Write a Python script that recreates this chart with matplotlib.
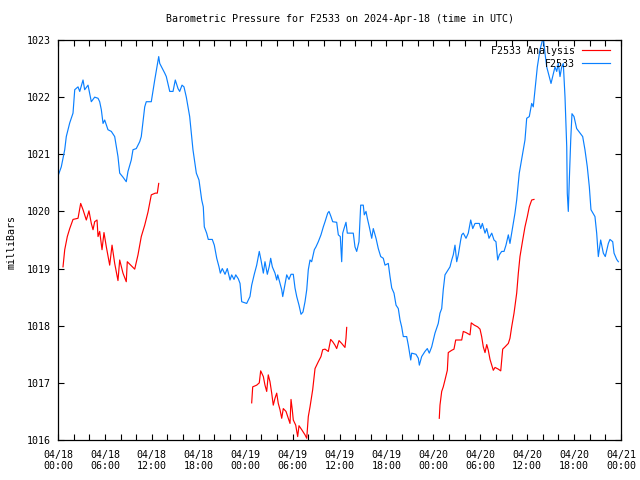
import numpy as np
import pandas as pd
import matplotlib
matplotlib.use("Agg")
import matplotlib.pyplot as plt
import matplotlib.dates as mdates

# hours after 2024-04-18 00:00 UTC, pressure in mb
obs_hours = [0.00, 0.42, 0.64, 0.86, 1.06, 1.50, 1.92, 2.14, 2.56, 2.78, 3.20, 3.41, 3.84, 4.26, 4.69,
             5.12, 5.33, 5.54, 5.76, 5.97, 6.39, 6.82, 7.25, 7.46, 7.67, 7.89, 8.31, 8.73, 8.95, 9.37,
             9.59, 10.01, 10.45, 10.65, 11.09, 11.29, 11.93, 12.37, 12.88, 13.01, 13.43, 13.65, 13.85,
             14.29, 14.71, 15.00, 15.35, 15.56, 15.86, 16.11, 16.41, 16.84, 17.26, 17.69, 18.03, 18.38,
             18.58, 18.71, 19.01, 19.22, 19.73, 19.99, 20.30, 20.59, 20.76, 21.01, 21.36, 21.65, 22.00,
             22.21, 22.51, 22.73, 23.06, 23.28, 23.49, 24.13, 24.55, 24.77, 25.10, 25.41, 25.74, 25.96,
             26.26, 26.47, 26.77, 27.02, 27.20, 27.41, 27.75, 27.97, 28.10, 28.39, 28.61, 28.74, 28.94,
             29.25, 29.54, 29.80, 30.09, 30.31, 30.53, 30.82, 31.08, 31.33, 31.59, 31.81, 32.01, 32.23,
             32.44, 32.78, 32.99, 33.29, 33.63, 33.93, 34.15, 34.49, 34.66, 34.91, 35.13, 35.64, 35.85,
             36.10, 36.28, 36.41, 36.58, 36.83, 37.00, 37.25, 37.76, 37.98, 38.20, 38.49, 38.71, 39.04,
             39.17, 39.39, 39.56, 39.81, 40.12, 40.32, 40.67, 40.96, 41.27, 41.60, 41.82, 42.24, 42.46,
             42.68, 42.97, 43.23, 43.52, 43.74, 43.95, 44.16, 44.59, 44.80, 45.11, 45.23, 45.78, 46.08,
             46.21, 46.51, 46.93, 47.23, 47.48, 47.79, 48.21, 48.63, 48.85, 49.07, 49.27, 49.49, 49.91,
             50.13, 50.35, 50.55, 50.77, 50.99, 51.19, 51.50, 51.63, 51.83, 52.18, 52.47, 52.78, 53.04,
             53.33, 53.88, 54.06, 54.27, 54.61, 54.83, 55.12, 55.47, 55.76, 56.01, 56.23, 56.44, 56.74,
             57.04, 57.29, 57.59, 57.80, 58.02, 58.23, 58.44, 58.66, 58.99, 59.43, 59.72, 59.94, 60.27,
             60.58, 60.78, 61.00, 61.30, 61.64, 62.06, 62.28, 62.50, 62.83, 63.05, 63.26, 63.56, 63.78,
             63.98, 64.20, 64.42, 64.62, 64.84, 65.06, 65.13, 65.26, 65.39, 65.57, 65.73, 65.99, 66.33,
             66.76, 67.10, 67.39, 67.69, 67.95, 68.16, 68.67, 68.89, 69.10, 69.40, 69.74, 69.99, 70.38,
             70.59, 70.94, 71.11, 71.45, 71.66]
obs_mb = [1020.62, 1020.78, 1020.93, 1021.08, 1021.31, 1021.55, 1021.72, 1022.13, 1022.18, 1022.10,
          1022.30, 1022.13, 1022.21, 1021.92, 1022.00, 1021.98, 1021.92, 1021.78, 1021.54, 1021.60,
          1021.43, 1021.40, 1021.31, 1021.13, 1020.96, 1020.67, 1020.60, 1020.52, 1020.70, 1020.90,
          1021.08, 1021.10, 1021.22, 1021.31, 1021.83, 1021.92, 1021.92, 1022.30, 1022.71, 1022.59,
          1022.48, 1022.42, 1022.36, 1022.10, 1022.10, 1022.30, 1022.15, 1022.10, 1022.21, 1022.18,
          1022.00, 1021.66, 1021.08, 1020.67, 1020.55, 1020.20, 1020.08, 1019.73, 1019.62, 1019.51,
          1019.51, 1019.41, 1019.18, 1019.03, 1018.92, 1019.00, 1018.90, 1019.00, 1018.80, 1018.89,
          1018.81, 1018.89, 1018.82, 1018.74, 1018.42, 1018.39, 1018.51, 1018.71, 1018.90, 1019.06,
          1019.30, 1019.15, 1018.92, 1019.12, 1018.90, 1019.04, 1019.18, 1019.03, 1018.92, 1018.80,
          1018.89, 1018.74, 1018.63, 1018.51, 1018.66, 1018.89, 1018.81, 1018.90, 1018.90, 1018.66,
          1018.51, 1018.36, 1018.20, 1018.24, 1018.42, 1018.63, 1018.98, 1019.15, 1019.12, 1019.33,
          1019.38, 1019.47, 1019.59, 1019.73, 1019.82, 1019.97, 1020.00, 1019.91, 1019.82, 1019.81,
          1019.59, 1019.56, 1019.12, 1019.62, 1019.70, 1019.81, 1019.62, 1019.62, 1019.62, 1019.38,
          1019.30, 1019.47, 1020.11, 1020.11, 1019.94, 1020.00, 1019.88, 1019.73, 1019.53, 1019.70,
          1019.53, 1019.35, 1019.21, 1019.18, 1019.06, 1019.09, 1018.86, 1018.66, 1018.57, 1018.36,
          1018.30, 1018.10, 1017.98, 1017.81, 1017.81, 1017.66, 1017.40, 1017.52, 1017.50, 1017.43,
          1017.31, 1017.46, 1017.55, 1017.60, 1017.52, 1017.63, 1017.87, 1018.04, 1018.22, 1018.30,
          1018.63, 1018.89, 1018.98, 1019.03, 1019.15, 1019.24, 1019.41, 1019.12, 1019.24, 1019.50,
          1019.59, 1019.62, 1019.53, 1019.62, 1019.85, 1019.70, 1019.79, 1019.79, 1019.70, 1019.79,
          1019.62, 1019.70, 1019.53, 1019.62, 1019.50, 1019.47, 1019.15, 1019.24, 1019.30, 1019.30,
          1019.41, 1019.59, 1019.44, 1019.62, 1019.79, 1019.97, 1020.20, 1020.67, 1021.02, 1021.25,
          1021.63, 1021.66, 1021.89, 1021.83, 1022.13, 1022.53, 1022.83, 1023.05, 1022.77, 1022.53,
          1022.36, 1022.24, 1022.36, 1022.53, 1022.45, 1022.59, 1022.36, 1022.53, 1022.59, 1022.00,
          1021.13, 1020.32, 1020.00, 1020.55, 1021.25, 1021.71, 1021.66, 1021.45, 1021.37, 1021.31,
          1021.08, 1020.78, 1020.43, 1020.03, 1019.91, 1019.62, 1019.21, 1019.50, 1019.27, 1019.21,
          1019.44, 1019.51, 1019.47, 1019.27, 1019.16, 1019.12]

# analysis runs, three 12 hour pieces
ana1_hours = [0.64, 0.86, 1.19, 1.50, 1.92, 2.56, 2.90, 3.20, 3.62, 3.96, 4.26, 4.48, 4.69, 4.99, 5.12,
              5.33, 5.63, 5.88, 6.18, 6.61, 6.91, 7.25, 7.67, 7.89, 8.31, 8.73, 8.86, 9.81, 10.23, 10.65,
              11.09, 11.51, 11.93, 12.44, 12.70, 12.88]
ana1_mb = [1019.03, 1019.33, 1019.56, 1019.70, 1019.86, 1019.88, 1020.14, 1020.03, 1019.85, 1020.01,
           1019.79, 1019.68, 1019.82, 1019.85, 1019.56, 1019.65, 1019.33, 1019.63, 1019.38, 1019.06,
           1019.41, 1019.09, 1018.79, 1019.15, 1018.92, 1018.77, 1019.12, 1018.99, 1019.24, 1019.56,
           1019.76, 1019.99, 1020.29, 1020.32, 1020.32, 1020.49]
ana2_hours = [24.77, 24.90, 25.41, 25.74, 25.92, 26.26, 26.47, 26.69, 26.89, 27.11, 27.33, 27.53, 27.75,
              27.97, 28.17, 28.39, 28.61, 28.81, 29.16, 29.45, 29.67, 29.80, 29.96, 30.09, 30.40, 30.65,
              30.82, 31.17, 31.59, 31.81, 32.01, 32.23, 32.57, 32.87, 33.29, 33.63, 33.85, 34.15, 34.57,
              34.87, 35.13, 35.42, 35.64, 35.94, 36.28, 36.70, 36.83, 36.92]
ana2_mb = [1016.65, 1016.93, 1016.96, 1017.00, 1017.21, 1017.11, 1016.96, 1016.85, 1017.14, 1017.02,
           1016.82, 1016.61, 1016.73, 1016.82, 1016.64, 1016.53, 1016.38, 1016.55, 1016.50, 1016.38,
           1016.29, 1016.71, 1016.53, 1016.35, 1016.26, 1016.06, 1016.25, 1016.18, 1016.09, 1016.03,
           1016.41, 1016.58, 1016.88, 1017.25, 1017.37, 1017.46, 1017.58, 1017.59, 1017.55, 1017.76,
           1017.72, 1017.66, 1017.60, 1017.74, 1017.69, 1017.62, 1017.78, 1017.97]
ana3_hours = [48.76, 48.85, 49.07, 49.27, 49.49, 49.79, 49.91, 50.35, 50.64, 50.86, 51.63, 51.83, 52.18,
              52.69, 52.85, 53.24, 53.67, 53.97, 54.18, 54.39, 54.61, 54.83, 55.03, 55.25, 55.47, 55.67,
              55.89, 56.31, 56.62, 56.87, 57.17, 57.59, 57.80, 58.02, 58.32, 58.66, 58.87, 59.08, 59.43,
              59.72, 60.02, 60.27, 60.58, 60.87]
ana3_mb = [1016.38, 1016.61, 1016.85, 1016.93, 1017.05, 1017.22, 1017.53, 1017.57, 1017.59, 1017.75,
           1017.75, 1017.90, 1017.88, 1017.84, 1018.05, 1018.01, 1017.98, 1017.94, 1017.81, 1017.63,
           1017.53, 1017.67, 1017.57, 1017.41, 1017.31, 1017.22, 1017.27, 1017.24, 1017.21, 1017.59,
           1017.63, 1017.69, 1017.78, 1017.98, 1018.22, 1018.57, 1018.92, 1019.21, 1019.50, 1019.73,
           1019.91, 1020.08, 1020.20, 1020.21]

start = pd.Timestamp("2024-04-18 00:00")
end = pd.Timestamp("2024-04-21 00:00")

def to_time(hours):
    return start + pd.to_timedelta(np.array(hours), unit="h")

plt.rcParams['font.family'] = ['DejaVu Sans Mono']
plt.rcParams['font.size'] = 7.2

fig = plt.figure(figsize=(6.4, 4.8), dpi=100)
ax = fig.add_axes([58/640, 40/480, 563/640, 400/480])

red = '#ff0000'
blue = '#0a80ff'
ax.plot(to_time(ana1_hours), ana1_mb, color=red, lw=0.85, label='F2533 Analysis')
ax.plot(to_time(ana2_hours), ana2_mb, color=red, lw=0.85)
ax.plot(to_time(ana3_hours), ana3_mb, color=red, lw=0.85)
ax.plot(to_time(obs_hours), obs_mb, color=blue, lw=0.85, label='F2533')

ax.set_xlim(start, end)
ax.set_ylim(1016, 1023)
ax.set_yticks(range(1016, 1024))

ax.xaxis.set_major_locator(mdates.HourLocator(byhour=range(0, 24, 6)))
ax.xaxis.set_minor_locator(mdates.HourLocator(byhour=range(0, 24, 2)))
ax.xaxis.set_major_formatter(mdates.DateFormatter('%m/%d\n%H:%M'))

ax.tick_params(which='both', direction='in', top=True, right=True, length=4, width=0.8, color='black')
ax.tick_params(axis='x', which='major', pad=7)
ax.tick_params(axis='y', pad=5)
for s in ax.spines.values():
    s.set_linewidth(0.9)

fig.text(340/640, 1 - 19/480, 'Barometric Pressure for F2533 on 2024-Apr-18 (time in UTC)',
         ha='center', va='center')
fig.text(12/640, 1 - 242/480, 'milliBars', rotation=90, ha='center', va='center')

ax.legend(loc='upper right', bbox_to_anchor=(1 - 11/563, 1 - 6/400), frameon=False,
          markerfirst=False, handlelength=2.8, handletextpad=0.7, labelspacing=0.3,
          borderpad=0, borderaxespad=0)

fig.savefig('out.png', dpi=100)
